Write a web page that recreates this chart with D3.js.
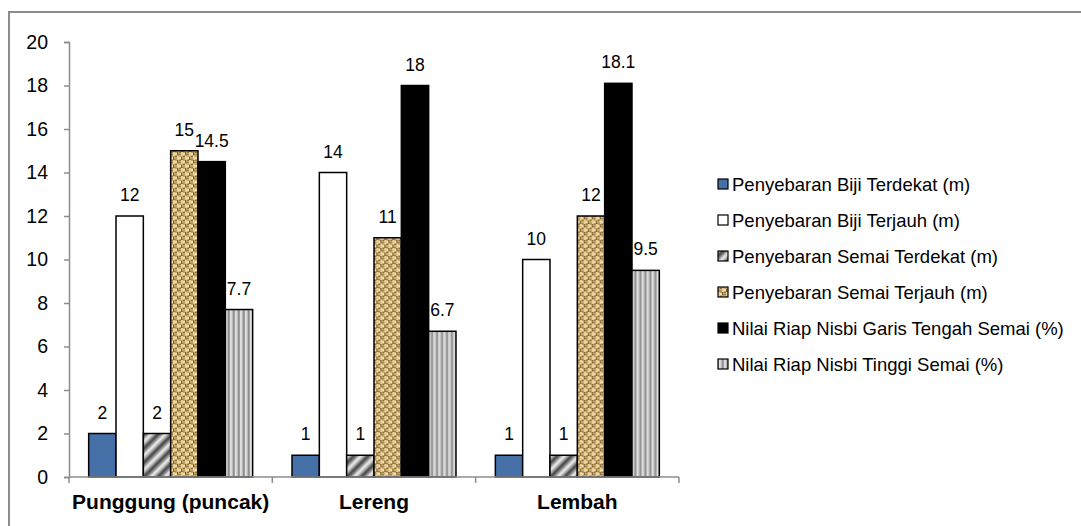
<!DOCTYPE html>
<html>
<head>
<meta charset="utf-8">
<script src="https://cdn.jsdelivr.net/npm/d3@7/dist/d3.min.js"></script>
<style>
  html, body { margin: 0; padding: 0; background: #fff; }
  svg { display: block; font-family: "Liberation Sans", Arial, sans-serif; }
</style>
</head>
<body>
<svg id="chart" width="1081" height="526"></svg>
<script>
// Locations along the slope
const categories = ["Punggung (puncak)", "Lereng", "Lembah"];

// Series names (legend order)
const seriesNames = [
  "Penyebaran Biji Terdekat (m)",
  "Penyebaran Biji Terjauh (m)",
  "Penyebaran Semai Terdekat (m)",
  "Penyebaran Semai Terjauh (m)",
  "Nilai Riap Nisbi Garis Tengah Semai (%)",
  "Nilai Riap Nisbi Tinggi Semai (%)"
];

// Values per series, one per location
const bijiTerdekat  = [2, 1, 1];
const bijiTerjauh   = [12, 14, 10];
const semaiTerdekat = [2, 1, 1];
const semaiTerjauh  = [15, 11, 12];
const riapDiameter  = [14.5, 18, 18.1];
const riapTinggi    = [7.7, 6.7, 9.5];

const seriesValues = [bijiTerdekat, bijiTerjauh, semaiTerdekat, semaiTerjauh, riapDiameter, riapTinggi];

const yTicks = [0, 2, 4, 6, 8, 10, 12, 14, 16, 18, 20];

const FONT = "'Liberation Sans', Arial, sans-serif";
const svg = d3.select("#chart");
const defs = svg.append("defs");

// ---- fills ----
// diagonal metallic hatch
const gHatch = defs.append("linearGradient").attr("id", "gHatch")
  .attr("x1", 0).attr("y1", 0).attr("x2", 1).attr("y2", 0);
[["0%", "#404040"], ["25%", "#8e8e8e"], ["50%", "#f2f2f2"], ["72%", "#b4b4b4"], ["100%", "#404040"]]
  .forEach(([o, c]) => gHatch.append("stop").attr("offset", o).attr("stop-color", c));
defs.append("pattern").attr("id", "pHatch").attr("patternUnits", "userSpaceOnUse")
  .attr("width", 10).attr("height", 10).attr("patternTransform", "rotate(45)")
  .append("rect").attr("width", 10).attr("height", 10).attr("fill", "url(#gHatch)");

// vertical grey stripes
const gStripe = defs.append("linearGradient").attr("id", "gStripe")
  .attr("x1", 0).attr("y1", 0).attr("x2", 1).attr("y2", 0);
[["0%", "#7c7c7c"], ["30%", "#e2e2e2"], ["60%", "#cfcfcf"], ["100%", "#7c7c7c"]]
  .forEach(([o, c]) => gStripe.append("stop").attr("offset", o).attr("stop-color", c));
defs.append("pattern").attr("id", "pStripe").attr("patternUnits", "userSpaceOnUse")
  .attr("width", 5).attr("height", 10)
  .append("rect").attr("width", 5).attr("height", 10).attr("fill", "url(#gStripe)");

// woven burlap texture
const burlap = defs.append("pattern").attr("id", "pBurlap").attr("patternUnits", "userSpaceOnUse")
  .attr("width", 8).attr("height", 8);
burlap.append("rect").attr("width", 8).attr("height", 8).attr("fill", "#c4a569");
[[0, 0, 2, 4, "#e4cf98"], [4, 4, 2, 4, "#e4cf98"], [2, 1, 2, 2, "#f0e0b0"], [6, 5, 2, 2, "#f0e0b0"],
 [4, 0, 1, 3, "#7b5b2d"], [0, 5, 1, 3, "#7b5b2d"], [2, 4, 2, 1, "#94733f"], [6, 0, 2, 1, "#94733f"],
 [5, 2, 3, 1, "#a78647"], [1, 7, 3, 1, "#a78647"]]
  .forEach(([x, y, w, h, c]) => burlap.append("rect").attr("x", x).attr("y", y)
    .attr("width", w).attr("height", h).attr("fill", c));

const fills = ["#4571a8", "#ffffff", "url(#pHatch)", "url(#pBurlap)", "#000000", "url(#pStripe)"];

// ---- frame ----
svg.append("rect").attr("x", 9).attr("y", 12).attr("width", 1200).attr("height", 700)
  .attr("fill", "none").attr("stroke", "#8c8c8c").attr("stroke-width", 2);

// ---- scales ----
const plotLeft = 69, plotRight = 679, plotTop = 42, plotBottom = 477;

const x0 = d3.scaleBand().domain(categories).range([plotLeft, plotRight]).padding(0);
const x1 = d3.scaleBand().domain(d3.range(seriesNames.length))
  .range([0, x0.bandwidth()]).paddingInner(0).paddingOuter(0.72);
const y = d3.scaleLinear().domain([0, 20]).range([plotBottom, plotTop]);

// ---- bars ----
const groups = svg.append("g").selectAll("g").data(categories).join("g")
  .attr("transform", d => `translate(${x0(d)},0)`);

groups.each(function(cat, ci) {
  const g = d3.select(this);
  seriesValues.forEach((vals, si) => {
    const v = vals[ci];
    g.append("rect")
      .attr("x", x1(si)).attr("y", y(v))
      .attr("width", x1.bandwidth()).attr("height", y(0) - y(v))
      .attr("fill", fills[si]).attr("stroke", "#000").attr("stroke-width", 1.5);
  });
});

// ---- value labels ----
groups.each(function(cat, ci) {
  const g = d3.select(this);
  seriesValues.forEach((vals, si) => {
    const v = vals[ci];
    g.append("text")
      .attr("x", x1(si) + x1.bandwidth() / 2).attr("y", y(v) - 15)
      .attr("text-anchor", "middle").attr("font-size", 17.5).attr("fill", "#000")
      .text(v);
  });
});

// ---- axes ----
const yAxis = d3.axisLeft(y).tickValues(yTicks).tickSize(5).tickPadding(16);
const yg = svg.append("g").attr("transform", `translate(${plotLeft},0)`).call(yAxis);
yg.select(".domain").attr("stroke", "#8c8c8c").attr("stroke-width", 1.5);
yg.selectAll(".tick line").attr("stroke", "#8c8c8c").attr("stroke-width", 1.5);
yg.selectAll(".tick text").attr("font-size", 19.5).attr("fill", "#000").style("font-family", FONT);

const xAxis = d3.axisBottom(x0).tickSize(0).tickPadding(0);
const xg = svg.append("g").attr("transform", `translate(0,${plotBottom})`).call(xAxis);
xg.select(".domain").attr("stroke", "#8c8c8c").attr("stroke-width", 1.5)
  .attr("d", `M${plotLeft},0H${plotRight}`);
xg.selectAll(".tick text").attr("y", 32).attr("dy", null)
  .attr("font-size", 21).attr("font-weight", "bold").attr("fill", "#000").style("font-family", FONT);
// category boundary ticks
const bounds = categories.map(c => x0(c)).concat([x0(categories[categories.length - 1]) + x0.bandwidth()]);
xg.selectAll("line.bound").data(bounds).join("line").attr("class", "bound")
  .attr("x1", d => d).attr("x2", d => d).attr("y1", 0).attr("y2", 6)
  .attr("stroke", "#8c8c8c").attr("stroke-width", 1.5);

// ---- legend ----
const legend = svg.append("g").attr("transform", "translate(718,184)");
const items = legend.selectAll("g").data(seriesNames).join("g")
  .attr("transform", (d, i) => `translate(0,${i * 36})`);
items.append("rect").attr("x", 0).attr("y", -5).attr("width", 10).attr("height", 10)
  .attr("fill", (d, i) => fills[i]).attr("stroke", "#000").attr("stroke-width", 1.2);
items.append("text").attr("x", 14).attr("y", 6.5).attr("font-size", 18.5).attr("fill", "#000")
  .text(d => d);
</script>
</body>
</html>
